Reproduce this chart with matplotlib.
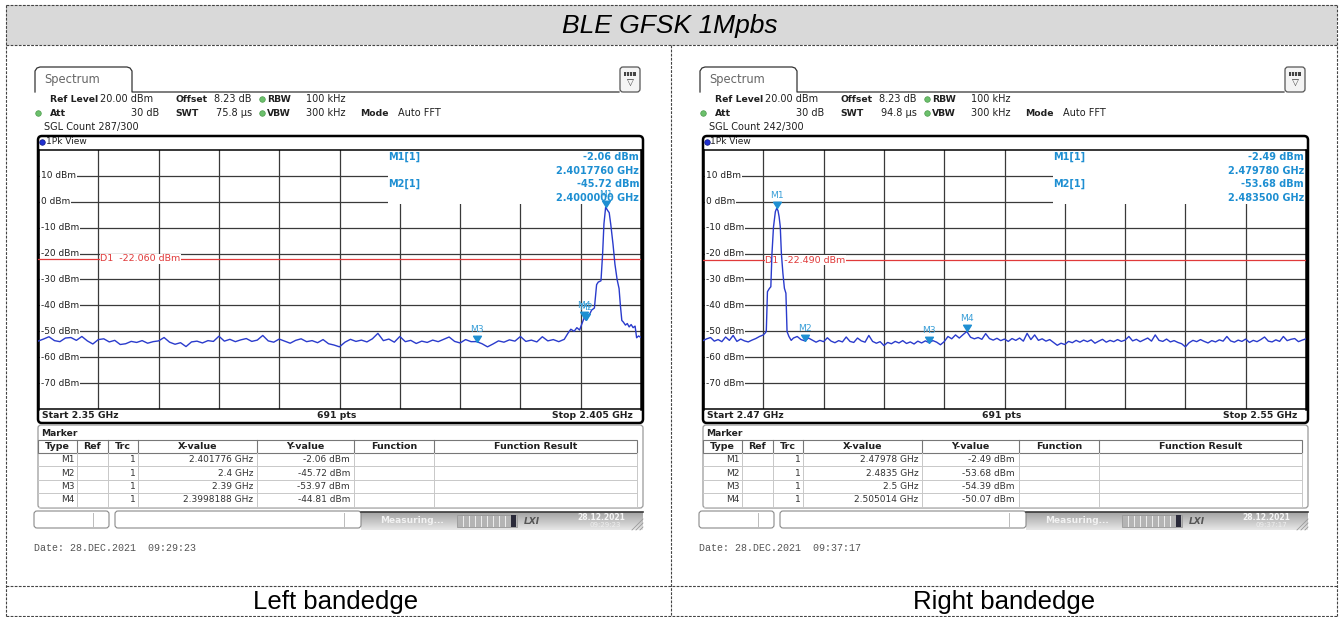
import numpy as np
import matplotlib
matplotlib.use("Agg")
import matplotlib.pyplot as plt
from matplotlib.patches import Rectangle, FancyBboxPatch
from matplotlib.colors import LinearSegmentedColormap
from matplotlib.transforms import blended_transform_factory

W, H = 1340, 617
UI = ["DejaVu Sans"]
DOC = ["Liberation Sans", "DejaVu Sans"]
MONO = ["Liberation Mono", "DejaVu Sans Mono"]

ref_levels = [10, 0, -10, -20, -30, -40, -50, -60, -70]

left_start, left_stop = 2.35, 2.405
left_floor_f0, left_floor_f1 = 2.350, 2.398
left_floor_dbm = [
    -53.8, -53.0, -52.1, -53.6, -54.0, -52.6, -52.4, -53.5, -52.0, -53.7,
    -54.9, -53.2, -52.9, -54.1, -53.5, -55.1, -54.8, -53.9, -54.3, -53.6,
    -54.6, -54.0, -53.7, -52.4, -54.2, -55.0, -54.4, -55.9, -54.1, -53.8,
    -54.5, -53.6, -53.9, -51.9, -53.8, -53.1, -54.0, -53.3, -52.8, -53.9,
    -53.4, -51.6, -53.7, -54.2, -53.0, -53.8, -54.6, -53.5, -52.9, -54.0,
    -53.6, -54.4, -53.2, -54.8, -55.3, -56.0, -54.2, -53.1, -53.9, -53.4,
    -54.1, -52.9, -50.8, -53.6, -53.0, -54.2, -52.0, -54.0, -53.5, -54.7,
    -53.8, -54.3, -53.4, -54.0, -53.1, -52.2, -53.9, -54.5, -53.2, -54.0,
    -53.97, -54.8, -56.0, -54.9, -53.7, -54.2, -53.3, -53.8, -52.0, -53.9,
    -53.4, -54.1, -52.1, -53.7, -53.2, -54.0, -53.1,
]
left_edge_ghz = [
    2.39833, 2.3986, 2.3989, 2.39915, 2.3994, 2.3996, 2.3998188, 2.4000,
    2.4003, 2.4005, 2.40075, 2.40095, 2.4011, 2.40135, 2.4015, 2.40162,
    2.401776, 2.40195, 2.4021, 2.40225, 2.40245, 2.40262, 2.40282, 2.4030,
    2.40312, 2.40325, 2.4034, 2.40358, 2.40375, 2.40392, 2.4041, 2.40428,
    2.40446, 2.4046, 2.40478, 2.405,
]
left_edge_dbm = [
    -50.8, -49.2, -50.0, -48.6, -49.5, -47.2, -44.81, -45.72,
    -43.5, -41.8, -41.0, -32.0, -31.0, -30.5, -20.0, -8.5,
    -2.06, -3.3, -4.2, -9.0, -16.5, -24.0, -30.0, -33.5,
    -40.0, -45.8, -46.5, -47.6, -47.0, -48.3, -47.4, -48.6,
    -48.0, -52.5, -51.8, -52.4,
]

right_start, right_stop = 2.47, 2.55
right_lead_f0, right_lead_f1 = 2.470, 2.478
right_lead_dbm = [
    -53.6, -52.9, -52.4, -53.8, -53.2, -54.0, -52.2, -53.5, -51.6, -53.9,
    -53.0, -53.7, -54.1, -53.4, -52.8, -52.0, -51.4,
]
right_edge_ghz = [
    2.4783, 2.4784, 2.47855, 2.4788, 2.4790, 2.47915, 2.47935, 2.4796,
    2.47978, 2.47995, 2.4801, 2.48025, 2.4804, 2.4806, 2.4808, 2.4810,
    2.48115, 2.4814, 2.4817, 2.4820, 2.4825, 2.4830,
]
right_edge_dbm = [
    -50.5, -49.8, -34.7, -33.5, -32.8, -20.0, -9.8, -3.8,
    -2.49, -3.4, -5.8, -9.6, -20.0, -27.6, -33.4, -35.3,
    -50.1, -52.0, -53.5, -52.6, -52.0, -53.2,
]
right_floor_f0, right_floor_f1 = 2.4835, 2.55
right_floor_dbm = [
    -53.68, -52.6, -53.4, -54.2, -53.5, -54.0, -52.5, -53.8, -54.4, -53.6,
    -54.1, -52.2, -53.9, -54.3, -52.6, -53.7, -54.2, -51.6, -53.9, -54.6,
    -54.0, -55.5, -54.3, -54.8, -53.9, -54.5, -53.6, -54.7, -54.1, -54.9,
    -53.8, -54.5, -53.7, -54.39, -53.6, -54.2, -55.2, -54.0, -52.0, -52.9,
    -51.4, -52.6, -51.3, -50.07, -52.3, -52.9, -52.4, -53.1, -50.9, -52.8,
    -53.4, -52.7, -53.6, -53.0, -53.9, -52.8, -53.5, -52.6, -53.8, -50.8,
    -53.2, -51.4, -53.5, -52.9, -53.8, -53.2, -54.3, -55.4, -54.6, -55.1,
    -53.9, -54.4, -53.5, -54.2, -53.4, -54.0, -53.3, -54.6, -53.8, -53.1,
    -54.2, -53.5, -54.0, -53.2, -53.9, -53.4, -52.0, -53.7, -53.1, -54.0,
    -53.3, -52.6, -53.8, -51.4, -53.5, -53.9, -53.0, -54.1, -53.6, -54.3,
    -54.8, -56.0, -54.4, -53.5, -54.0, -53.2, -53.9, -54.5, -53.6, -54.1,
    -53.3, -53.8, -52.0, -53.7, -54.2, -53.4, -53.9, -53.0, -54.3, -53.5,
    -54.0, -53.2, -52.2, -53.8, -54.1, -53.3, -53.9, -52.0, -53.6, -53.1,
    -52.8, -54.0, -53.4, -52.9,
]

left_d1 = -22.06
right_d1 = -22.49

marker_names = ["M1", "M2", "M3", "M4"]
left_marker_ghz = [2.401776, 2.4, 2.39, 2.3998188]
left_marker_dbm = [-2.06, -45.72, -53.97, -44.81]
right_marker_ghz = [2.47978, 2.4835, 2.5, 2.505014]
right_marker_dbm = [-2.49, -53.68, -54.39, -50.07]

left_info = ["-2.06 dBm", "2.4017760 GHz", "-45.72 dBm", "2.4000000 GHz"]
right_info = ["-2.49 dBm", "2.479780 GHz", "-53.68 dBm", "2.483500 GHz"]

left_trace_ghz = np.concatenate([np.linspace(left_floor_f0, left_floor_f1, len(left_floor_dbm)), left_edge_ghz])
left_trace_dbm = np.concatenate([left_floor_dbm, left_edge_dbm])
right_trace_ghz = np.concatenate([np.linspace(right_lead_f0, right_lead_f1, len(right_lead_dbm)),
                                  right_edge_ghz,
                                  np.linspace(right_floor_f0, right_floor_f1, len(right_floor_dbm))])
right_trace_dbm = np.concatenate([right_lead_dbm, right_edge_dbm, right_floor_dbm])

TRACE = "#2a3bcc"
MARK = "#1e8fd2"
MARK_TXT = "#3a9fd8"
RED = "#e03a3a"
GRID = "#3a3a3a"

fig = plt.figure(figsize=(W / 100, H / 100), dpi=100)
bg = fig.add_axes([0, 0, 1, 1])
bg.axis("off")


def dashed(x0, y0, x1, y1):
    bg.plot([x0, x1], [y0, y1], color="#444444", lw=0.8, ls=(0, (2.5, 1.2)), zorder=3)


# outer document table
bg.add_patch(Rectangle((6, 5), 1331, 40, fc="#d9d9d9", ec="none", zorder=1))
for yy in (5, 45, 586, 616):
    dashed(6, yy, 1337, yy)
for xx in (6, 1337):
    dashed(xx, 5, xx, 616)
dashed(671, 45, 671, 616)
bg.text(670, 26, "BLE GFSK 1Mpbs", family=DOC, style="italic", fontsize=19,
        ha="center", va="center", color="black")
bg.text(336, 602, "Left bandedge", family=DOC, fontsize=18.5, ha="center", va="center")
bg.text(1004, 602, "Right bandedge", family=DOC, fontsize=18.5, ha="center", va="center")

band_cmap = LinearSegmentedColormap.from_list("band", ["#a4a4a4", "#e6e6e6"])


def screen(dx, start, stop, t_ghz, t_dbm, d1, mk_ghz, mk_dbm, info, swt, count, date, clock):
    def txt(x, y, s, size=7.0, weight="normal", color="#202020", ha="left", **kw):
        bg.text(x + dx, y, s, fontsize=size, fontweight=weight, color=color, ha=ha,
                va="center", family=UI, zorder=6, **kw)

    def dot(x, y, c, ec):
        bg.scatter([x + dx], [y], s=16, color=c, edgecolors=ec, linewidths=0.5, zorder=6)

    # tab and top line
    xs = [35, 35, 37, 40, 127, 130, 132, 132, 619]
    ys = [92, 71, 68, 67, 67, 68, 71, 92, 92]
    bg.plot([v + dx for v in xs], ys, color="#333333", lw=0.9, zorder=4)
    txt(44, 80, "Spectrum", size=8.3, color="#666666")
    bg.add_patch(FancyBboxPatch((620 + dx, 67), 20, 25, boxstyle="round,pad=0,rounding_size=3",
                                fc="#f4f4f4", ec="#555555", lw=0.9, zorder=4))
    bg.add_patch(Rectangle((624 + dx, 72), 12, 4, fc="#444444", ec="none", zorder=5))
    for k in range(3):
        bg.plot([626 + dx + 3 * k] * 2, [72, 76], color="white", lw=0.6, zorder=5)
    txt(630, 83, "\u25bd", size=6.5, ha="center", color="#333333")

    # setting rows
    txt(50, 99.3, "Ref Level", size=6.7, weight="bold")
    txt(100.4, 99.3, "20.00 dBm")
    txt(175.5, 99.3, "Offset", size=6.7, weight="bold")
    txt(213.8, 99.3, "8.23 dB")
    dot(261.6, 99.3, "#6cc06c", "#4a9a4a")
    txt(267.2, 99.3, "RBW", size=6.7, weight="bold")
    txt(306, 99.3, "100 kHz")
    dot(37.9, 113.3, "#6cc06c", "#4a9a4a")
    txt(49.8, 113.3, "Att", size=6.7, weight="bold")
    txt(159.6, 113.3, "30 dB", ha="right")
    txt(175.5, 113.3, "SWT", size=6.7, weight="bold")
    txt(215.8, 113.3, swt)
    dot(261.6, 113.3, "#6cc06c", "#4a9a4a")
    txt(267.2, 113.3, "VBW", size=6.7, weight="bold")
    txt(306, 113.3, "300 kHz")
    txt(360, 113.3, "Mode", size=6.7, weight="bold")
    txt(397.6, 113.3, "Auto FFT")
    txt(43.8, 127.3, count)

    # diagram frame
    bg.add_patch(FancyBboxPatch((38 + dx, 136), 605, 287, boxstyle="round,pad=0,rounding_size=4",
                                fc="white", ec="black", lw=1.8, zorder=2))
    dot(41.9, 142, "#2030d0", "#101880")
    txt(45.5, 142, "1Pk View", size=6.5)
    txt(42, 415.5, "Start %g GHz" % start, size=6.7, weight="bold")
    txt(336.3, 415.5, "691 pts", size=6.7, weight="bold", ha="center")
    txt(632.8, 415.5, "Stop %g GHz" % stop, size=6.7, weight="bold", ha="right")

    ax = fig.add_axes([(38 + dx) / W, 1 - 409 / H, 603 / W, 259 / H])
    ax.patch.set_alpha(0)
    ax.set_xlim(start, stop)
    ax.set_ylim(-80, 20)
    ax.set_xticks([])
    ax.set_yticks([])
    for side, sp in ax.spines.items():
        sp.set_color("black")
        sp.set_linewidth(1.8 if side in ("left", "right") else 1.1)
    for v in np.linspace(start, stop, 11)[1:-1]:
        ax.axvline(v, color=GRID, lw=0.9, zorder=1)
    for lv in ref_levels:
        ax.axhline(lv, color=GRID, lw=0.9, zorder=1)
    ax.add_patch(Rectangle((0.5804, 0.7915), 0.4196, 0.2085, transform=ax.transAxes,
                           fc="white", ec="none", zorder=2))
    lab_tr = blended_transform_factory(ax.transAxes, ax.transData)
    for lv in ref_levels:
        ax.text(0.005, lv, "%d dBm" % lv, transform=lab_tr, fontsize=6.5, family=UI,
                va="center", ha="left", color="#202020", zorder=3,
                bbox=dict(fc="white", ec="none", pad=0.4))
    ax.axhline(d1, color=RED, lw=0.9, zorder=4)
    ax.text(0.103, d1, "D1  %.3f dBm" % d1, transform=lab_tr, fontsize=6.8, family=UI,
            va="center", ha="left", color=RED, zorder=4.5,
            bbox=dict(fc="white", ec="none", pad=0.3))
    ax.plot(t_ghz, t_dbm, color=TRACE, lw=1.0, zorder=5)
    tri = [(0, 0), (-1, 1.6), (1, 1.6), (0, 0)]
    ax.plot(mk_ghz, mk_dbm, ls="none", marker=tri, ms=9, color=MARK, zorder=6)
    for name, f, lv in zip(marker_names, mk_ghz, mk_dbm):
        ax.annotate(name, (f, lv), xytext=(0, 9), textcoords="offset points", ha="center",
                    va="center", fontsize=6.6, family=UI, color=MARK_TXT, zorder=7)
    rows_y = [0.973, 0.919, 0.869, 0.815]
    ax.text(0.5804, rows_y[0], "M1[1]", transform=ax.transAxes, fontsize=7, fontweight="bold",
            family=UI, color=MARK, va="center", zorder=7)
    ax.text(0.5804, rows_y[2], "M2[1]", transform=ax.transAxes, fontsize=7, fontweight="bold",
            family=UI, color=MARK, va="center", zorder=7)
    for yy, s in zip(rows_y, info):
        ax.text(0.9967, yy, s, transform=ax.transAxes, fontsize=7, fontweight="bold",
                family=UI, color=MARK, va="center", ha="right", zorder=7)

    # marker table
    bg.add_patch(FancyBboxPatch((38 + dx, 425), 605, 83, boxstyle="round,pad=0,rounding_size=3",
                                fc="white", ec="#9a9a9a", lw=0.9, zorder=2))
    txt(41, 433, "Marker", size=6.6, weight="bold")
    cols = [38, 76.6, 108, 137.5, 257.3, 354, 434, 637]
    bg.add_patch(Rectangle((38 + dx, 440), 599, 12.7, fc="white", ec="#777777", lw=0.8, zorder=3))
    for c in cols[1:-1]:
        bg.plot([c + dx, c + dx], [440, 452.7], color="#777777", lw=0.8, zorder=4)
        bg.plot([c + dx, c + dx], [452.7, 506.7], color="#c8c8c8", lw=0.7, zorder=4)
    bg.plot([637 + dx] * 2, [452.7, 506.7], color="#c8c8c8", lw=0.7, zorder=4)
    for yy in (466, 480, 493.3, 506.7):
        bg.plot([38 + dx, 637 + dx], [yy, yy], color="#c8c8c8", lw=0.7, zorder=4)
    heads = ["Type", "Ref", "Trc", "X-value", "Y-value", "Function", "Function Result"]
    for i, hd in enumerate(heads):
        txt((cols[i] + cols[i + 1]) / 2, 446.7, hd, size=6.8, weight="bold", ha="center")
    for i, name in enumerate(marker_names):
        yy = 459.5 + 13.5 * i
        txt(74.3, yy, name, size=6.5, ha="right", color="#333333")
        txt(136, yy, "1", size=6.5, ha="right", color="#333333")
        txt(253.3, yy, "%s GHz" % repr(mk_ghz[i]), size=6.5, ha="right", color="#333333")
        txt(350, yy, "%.2f dBm" % mk_dbm[i], size=6.5, ha="right", color="#333333")

    # status bar
    bg.add_patch(FancyBboxPatch((34 + dx, 511), 75, 17, boxstyle="round,pad=0,rounding_size=3",
                                fc="white", ec="#8a8a8a", lw=0.8, zorder=3))
    bg.plot([93 + dx] * 2, [513, 526], color="#bbbbbb", lw=0.7, zorder=4)
    bg.add_patch(FancyBboxPatch((115 + dx, 511), 246, 17, boxstyle="round,pad=0,rounding_size=3",
                                fc="white", ec="#8a8a8a", lw=0.8, zorder=3))
    bg.plot([344 + dx] * 2, [513, 526], color="#bbbbbb", lw=0.7, zorder=4)
    bg.imshow(np.linspace(0, 1, 20).reshape(-1, 1), cmap=band_cmap, aspect="auto",
              extent=(361 + dx, 643 + dx, 530, 512), zorder=2)
    bg.plot([361 + dx, 643 + dx], [512, 512], color="#3a3a3a", lw=1.2, zorder=4)
    txt(380, 520.5, "Measuring...", size=6.5, weight="bold", color="#f2f2f2")
    bg.add_patch(Rectangle((457 + dx, 515), 60, 12, fc="#b4b4b4", ec="#9a9a9a", lw=0.6, zorder=4))
    for k in range(1, 9):
        bg.plot([457 + dx + 6 * k] * 2, [516, 526], color="#eeeeee", lw=0.7, zorder=5)
    bg.add_patch(Rectangle((511 + dx, 515), 5, 12, fc="#2a2a3a", ec="none", zorder=5))
    txt(524, 521, "LXI", size=6.5, weight="bold", style="italic", color="#555555")
    txt(577, 517, "28.12.2021", size=5.5, weight="bold", color="#f6f6f6")
    txt(590, 525, clock, size=5, color="#eeeeee")
    for k in range(3):
        bg.plot([632 + dx + 4 * k, 643 + dx], [530, 519 + 4 * k], color="#9a9a9a", lw=0.6, zorder=5)

    bg.text(34 + dx, 548, "Date: %s  %s" % (date, clock), family=MONO, fontsize=7.2,
            color="#555555", va="center", ha="left", zorder=6)


screen(0, left_start, left_stop, left_trace_ghz, left_trace_dbm, left_d1,
       left_marker_ghz, left_marker_dbm, left_info, "75.8 \u00b5s", "SGL Count 287/300",
       "28.DEC.2021", "09:29:23")
screen(665, right_start, right_stop, right_trace_ghz, right_trace_dbm, right_d1,
       right_marker_ghz, right_marker_dbm, right_info, "94.8 \u00b5s", "SGL Count 242/300",
       "28.DEC.2021", "09:37:17")

bg.set_xlim(0, W)
bg.set_ylim(H, 0)
fig.savefig("out.png", dpi=100)
